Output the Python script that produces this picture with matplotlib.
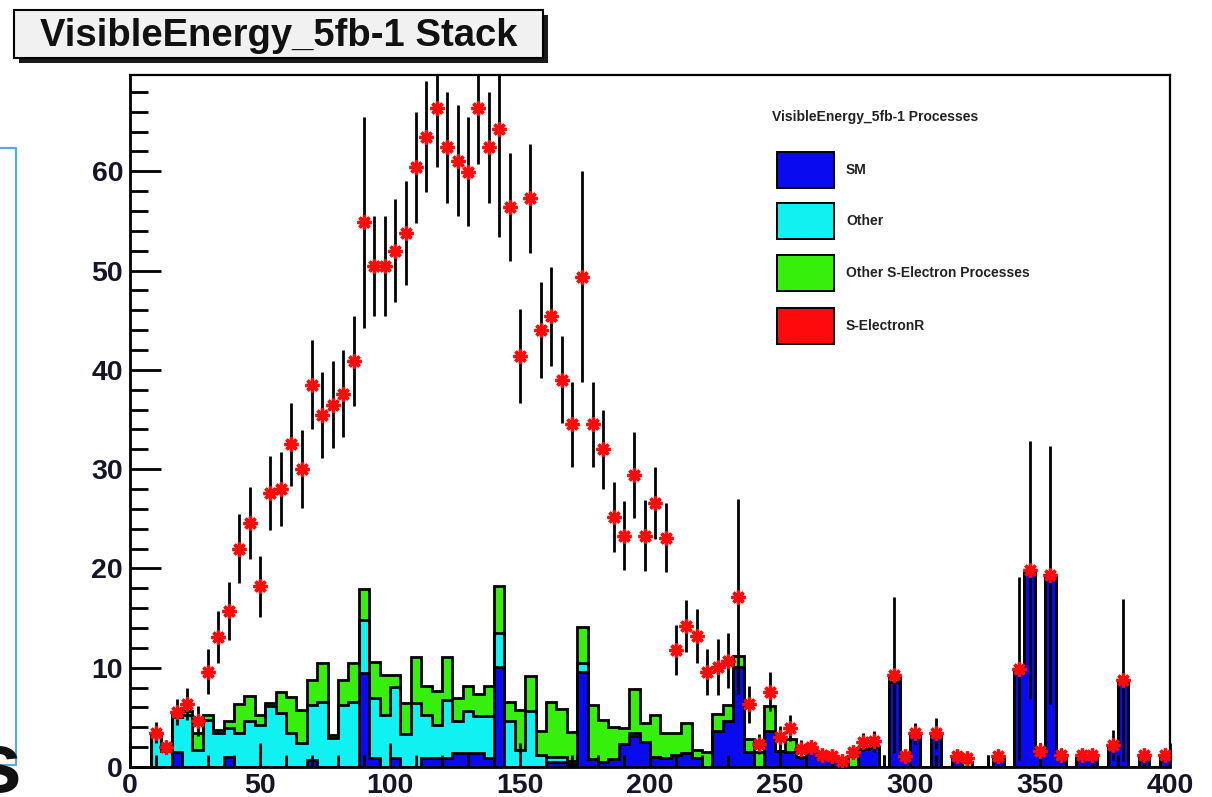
import numpy as np
import matplotlib
matplotlib.use("Agg")
import matplotlib.pyplot as plt
from matplotlib.patches import Rectangle
from matplotlib.ticker import MultipleLocator

plt.rcParams['font.family'] = ['Liberation Sans', 'DejaVu Sans']

# 100 bins of 4 GeV between 0 and 400
bin_edges = np.arange(0, 401, 4)

# Per-bin contents of each background component
sm = [0, 0, 0, 0, 1.5, 0, 0, 0, 0, 1.0,
      0, 0, 0, 0, 0, 0, 0, 0.7, 0, 0,
      0, 0, 9.5, 0.9, 0, 0.9, 0, 0, 0.9, 0.9,
      0.9, 1.4, 1.4, 1.4, 0.9, 10.1, 0, 0, 0, 0,
      0.5, 0.5, 0.3, 9.6, 0.8, 0.5, 0.8, 2.3, 3.1, 2.5,
      1.0, 0.9, 1.2, 1.4, 0.9, 0, 3.6, 4.6, 10.1, 1.5,
      0, 3.6, 1.6, 1.5, 1.0, 1.7, 1.0, 1.0, 0.5, 0,
      1.8, 2.0, 0, 8.6, 0.9, 3.1, 0, 3.1, 0, 0.9,
      0, 0, 0, 0.9, 0, 9.6, 19.6, 1.55, 19.1, 0.9,
      0, 0.9, 0.9, 0, 2.05, 8.6, 0, 0.9, 0, 0.9]

other = [0, 0, 3.3, 1.6, 3.5, 5.2, 1.7, 4.7, 3.4, 2.9,
         3.4, 4.6, 4.2, 6.1, 5.4, 3.4, 2.4, 5.5, 6.5, 2.9,
         6.2, 6.5, 5.3, 6.0, 5.2, 7.2, 3.3, 6.4, 4.3, 3.3,
         5.8, 3.2, 4.2, 3.7, 4.2, 3.4, 4.6, 1.7, 5.6, 1.2,
         0.5, 0.5, 0.3, 0.9, 0, 0, 0, 0, 0.35, 0,
         0, 0, 0, 0, 0, 0, 0, 0, 0, 0,
         0, 0, 0, 0, 0, 0, 0, 0, 0, 0,
         0, 0, 0, 0, 0, 0, 0, 0, 0, 0,
         0, 0, 0, 0, 0, 0, 0, 0, 0, 0,
         0, 0, 0, 0, 0, 0, 0, 0, 0, 0]

other_se = [0, 0, 0, 0, 0.2, 0.4, 1.7, 0.5, 0.3, 0.7,
            2.9, 2.55, 1.0, 0.3, 2.2, 3.7, 3.3, 2.6, 4.0, 0.3,
            2.6, 4.0, 3.1, 3.7, 4.1, 1.2, 3.1, 4.7, 3.0, 3.5,
            4.4, 2.3, 2.6, 2.3, 3.1, 4.7, 1.9, 4.0, 3.6, 2.4,
            5.5, 4.8, 2.9, 3.6, 5.4, 4.2, 3.2, 1.6, 4.45, 1.9,
            4.2, 2.5, 2.2, 3.0, 0.8, 1.5, 1.7, 1.6, 1.1, 1.3,
            1.5, 2.5, 0, 1.3, 0, 0, 0, 0, 0, 1.1,
            0, 0, 0, 0.5, 0, 0, 0, 0, 0, 0,
            0.55, 0, 0, 0, 0, 0, 0, 0, 0, 0,
            0, 0, 0, 0, 0, 0, 0, 0, 0, 0]

nan = np.nan
# Stack total including the S-ElectronR signal, with its uncertainty
stack_total = [nan, nan, 3.46, 2.0, 5.57, 6.34, 4.67, 9.6, 13.1, 15.7,
               22.0, 24.6, 18.2, 27.6, 28.0, 32.5, 30.0, 38.5, 35.45, 36.5,
               37.6, 40.9, 54.85, 50.45, 50.45, 52.0, 53.8, 60.4, 63.5, 66.4,
               62.4, 61.06, 59.95, 66.4, 62.4, 64.3, 56.4, 41.4, 57.3, 44.0,
               45.4, 39.0, 34.5, 49.4, 34.5, 32.0, 25.2, 23.3, 29.4, 23.3,
               26.6, 23.1, 11.8, 14.2, 13.2, 9.6, 10.1, 10.7, 17.15, 6.3,
               2.3, 7.6, 3.0, 3.9, 1.8, 2.0, 1.2, 1.1, 0.6, 1.5,
               2.5, 2.6, 0, 9.26, 1.1, 3.4, nan, 3.4, nan, 1.1,
               0.87, nan, 0, 1.1, nan, 9.9, 19.8, 1.6, 19.3, 1.2,
               nan, 1.2, 1.2, nan, 2.2, 8.76, nan, 1.2, nan, 1.2]

stack_err = [nan, nan, 1.05, 0.65, 1.3, 1.65, 1.5, 2.25, 2.65, 2.95,
             3.45, 3.6, 3.05, 3.75, 3.75, 4.15, 3.9, 4.5, 4.3, 4.4,
             4.4, 4.5, 10.6, 5.05, 5.05, 5.2, 5.25, 5.6, 5.6, 5.95,
             5.6, 5.6, 5.5, 5.7, 5.6, 10.9, 5.4, 4.7, 5.5, 4.85,
             5.0, 4.4, 4.25, 10.6, 4.25, 4.0, 3.55, 3.5, 4.3, 3.6,
             3.6, 3.5, 2.5, 2.65, 2.7, 2.3, 2.8, 2.75, 9.8, 1.85,
             1.0, 2.0, 1.1, 1.3, 0.95, 0.7, 0.4, 0.4, 0.6, 0.6,
             0.9, 1.05, 1.2, 7.9, 0.45, 1.06, nan, 1.57, nan, 0.45,
             0.4, nan, 1.2, 0.45, nan, 9.2, 13.0, 0.8, 13.0, 0.4,
             nan, 0.4, 0.4, nan, 1.5, 8.15, nan, 0.4, nan, 0.4]

process_names = ["SM", "Other", "Other S-Electron Processes", "S-ElectronR"]
process_colors = ["#0a0af0", "#10f2f2", "#36f00c", "#ff0a0a"]

W, H = 1212, 797
fig = plt.figure(figsize=(W / 100, H / 100), dpi=100)
fig.patch.set_facecolor("white")
ax = fig.add_axes([130 / W, 1 - 767 / H, 1040 / W, 692 / H])

cum_sm = np.array(sm)
cum_other = cum_sm + np.array(other)
cum_ose = cum_other + np.array(other_se)

# stacked histograms, drawn from the tallest cumulative layer downwards
for cum, col in [(cum_ose, process_colors[2]),
                 (cum_other, process_colors[1]),
                 (cum_sm, process_colors[0])]:
    ax.stairs(cum, bin_edges, fill=True, color=col, lw=0, zorder=1)
    ax.stairs(cum, bin_edges, color="black", lw=2.0, zorder=1.2)

centers = 0.5 * (bin_edges[:-1] + bin_edges[1:])
tot = np.array(stack_total)
err = np.array(stack_err)
has_err = ~np.isnan(err)
ax.errorbar(centers[has_err], tot[has_err], yerr=err[has_err], xerr=2,
            fmt="none", ecolor="black", elinewidth=2.0, capsize=0, zorder=3)
has_pt = ~np.isnan(tot) & (np.nan_to_num(tot) > 0)
ax.plot(centers[has_pt], tot[has_pt], ls="none", marker=(8, 2, 0), ms=10,
        mew=2.4, color=process_colors[3], zorder=4)

ax.set_xlim(0, 400)
ax.set_ylim(0, 69.7)
ax.xaxis.set_major_locator(MultipleLocator(50))
ax.xaxis.set_minor_locator(MultipleLocator(10))
ax.yaxis.set_major_locator(MultipleLocator(10))
ax.yaxis.set_minor_locator(MultipleLocator(2))
ax.set_axisbelow(False)
lab_col = "#151528"
ax.tick_params(axis="x", which="major", direction="in", length=17, width=2,
               pad=4, labelsize=20.5, labelcolor=lab_col)
ax.tick_params(axis="x", which="minor", direction="in", length=8.5, width=2)
ax.tick_params(axis="y", which="major", direction="in", length=22, width=2,
               pad=5, labelsize=20.5, labelcolor=lab_col)
ax.tick_params(axis="y", which="minor", direction="in", length=13, width=2)
for lab in ax.get_xticklabels() + ax.get_yticklabels():
    lab.set_fontweight("bold")
for side in ["left", "bottom"]:
    ax.spines[side].set_linewidth(2.0)
for side in ["top", "right"]:
    ax.spines[side].set_linewidth(1.6)

# overlay in pixel coordinates for the title box and the legend
ov = fig.add_axes([0, 0, 1, 1], zorder=5)
ov.set_xlim(0, W)
ov.set_ylim(H, 0)
ov.axis("off")

ov.add_patch(Rectangle((19, 15), 529, 48, facecolor="#1a1a1a", edgecolor="none"))
ov.add_patch(Rectangle((14, 10), 529, 48, facecolor="#f1f1f1", edgecolor="black", lw=1.5))
ov.text(278.5, 46, "VisibleEnergy_5fb-1 Stack", ha="center", va="baseline",
        fontsize=27.5, fontweight="bold", color="#111111")

ov.text(772, 117, "VisibleEnergy_5fb-1 Processes", ha="left", va="center",
        fontsize=10, fontweight="bold", color="#222222")
box_tops = [152, 203, 255, 308]
for name, col, top in zip(process_names, process_colors, box_tops):
    ov.add_patch(Rectangle((777, top), 57, 36, facecolor=col, edgecolor="black", lw=1.4))
    ov.text(846, top + 18, name, ha="left", va="center", fontsize=10,
            fontweight="bold", color="#222222")

# side bracket of the page and the edge of the slide lettering
ov.plot([0, 16, 16, 0], [148, 148, 765, 765], color="#5aaed0", lw=1.6)
ov.text(22, 792, "s", ha="right", va="baseline", fontsize=62,
        fontweight="bold", color="#111111")

fig.savefig("out.png", dpi=100)
